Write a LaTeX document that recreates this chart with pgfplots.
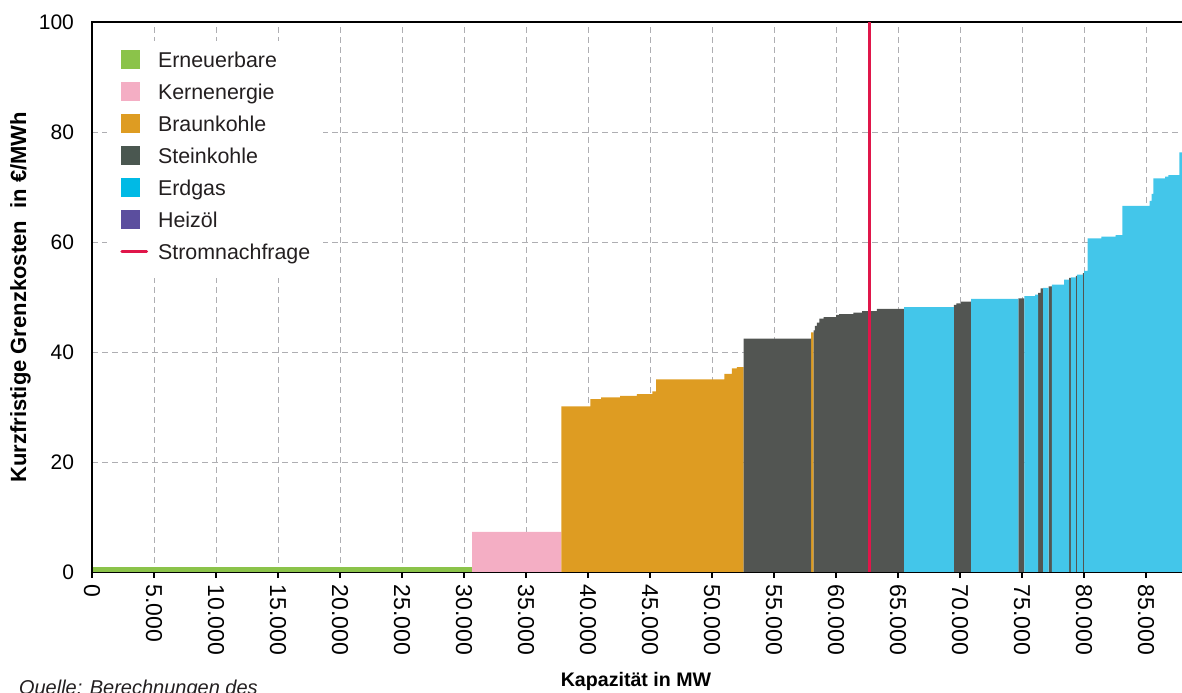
\documentclass[border=0pt]{standalone}
\usepackage{pgfplots}
\pgfplotsset{compat=1.18}
\usepackage{fontspec}
\setmainfont{Liberation Sans}

\definecolor{cErn}{HTML}{8BC34A}
\definecolor{cKern}{HTML}{F4AEC4}
\definecolor{cBraun}{HTML}{DE9C22}
\definecolor{cStein}{HTML}{525552}
\definecolor{cSteinL}{HTML}{4A5750}
\definecolor{cGas}{HTML}{43C6EA}
\definecolor{cGasL}{HTML}{00BAE5}
\definecolor{cOel}{HTML}{5B4E9E}
\definecolor{cStrom}{HTML}{E0164A}
\definecolor{cGrid}{HTML}{AEAEB2}
\definecolor{cText}{HTML}{231F20}

\pgfplotsset{
  block/.style={const plot, fill=#1, draw=none, forget plot},
  sq/.style={legend image code/.code={
      \fill[#1, draw=none] (0pt,-1.0pt) rectangle (9.5pt,8.5pt);
      \path[draw=none, fill=none] (0pt,0pt) -- (13.5pt,0pt);}},
}

\begin{document}
\begin{tikzpicture}
\begin{axis}[
    at={(46pt,-286.25pt)}, anchor=south west,
    scale only axis,
    width=545.6pt, height=275.25pt,
    xmin=0, xmax=88000,
    ymin=0, ymax=100,
    xtick={0,5000,...,85000},
    ytick={0,20,...,100},
    scaled x ticks=false,
    xtick pos=lower,
    tick align=outside,
    major tick length=2.5pt,
    ytick style={draw=none},
    xtick style={black, line width=0.6pt},
    /pgf/number format/assume math mode=true,
    /pgf/number format/fixed,
    /pgf/number format/1000 sep={.},
    xticklabel style={rotate=-90, anchor=west, font=\fontsize{11.5pt}{13pt}\selectfont, text=black},
    yticklabel style={font=\fontsize{10.5pt}{12pt}\selectfont, text=black, xshift=-3pt},
    grid=major,
    grid style={cGrid, line width=0.5pt, dash pattern=on 3pt off 2pt},
    axis line style={black, line width=0.6pt},
    xlabel={Kapazität in MW},
    ylabel={Kurzfristige Grenzkosten\ \ in €/MWh},
    xlabel style={font=\bfseries\fontsize{9.8pt}{12pt}\selectfont, at={(axis description cs:0.4985,-0.197)}, anchor=center},
    ylabel style={font=\bfseries\fontsize{11pt}{13pt}\selectfont, at={(axis description cs:-0.0655,0.5)}, anchor=center},
    legend style={at={(0.0138,0.967)}, anchor=north west, draw=none, fill=white,
        inner xsep=6.5pt, inner ysep=4.5pt, row sep=2.5pt, column sep=5pt,
        font=\fontsize{10.7pt}{12pt}\selectfont, text=cText,
        nodes={inner sep=0pt, text height=5.6pt, text depth=4.4pt}},
    legend cell align=left,
]
% Legende
\addlegendimage{sq=cErn}
\addlegendimage{sq=cKern}
\addlegendimage{sq=cBraun}
\addlegendimage{sq=cSteinL}
\addlegendimage{sq=cGasL}
\addlegendimage{sq=cOel}
\addlegendimage{legend image code/.code={
    \path[draw=none, fill=none] (0pt,-1.0pt) rectangle (13.5pt,8.5pt);
    \draw[cStrom, line width=1.5pt, line cap=round] (0.6pt,3.6pt) -- (12.9pt,3.6pt);}}
\legend{Erneuerbare,Kernenergie,Braunkohle,Steinkohle,Erdgas,Heizöl,Stromnachfrage}

% Erneuerbare
\addplot[block=cErn] coordinates {(0,1.0) (30650,1.0)} \closedcycle;
% Kernenergie
\addplot[block=cKern] coordinates {(30650,7.4) (37850,7.4)} \closedcycle;
% Braunkohle
\addplot[block=cBraun] coordinates {
  (37850,30.2) (40200,31.5) (41050,31.8) (42600,32.1) (43950,32.4)
  (45200,32.9) (45500,35.1) (51000,36.1) (51600,37.1) (52000,37.3)
  (52550,0) (58000,43.6) (58200,0)} \closedcycle;
% Steinkohle
\addplot[block=cStein] coordinates {
  (52550,42.5) (58000,0) (58200,44.0) (58300,44.8) (58450,45.4)
  (58650,46.1) (59000,46.4) (60000,46.8) (60250,46.95) (61400,47.2)
  (62100,47.5) (63300,47.9) (65500,0) (69500,48.6) (69700,48.9)
  (70100,49.2) (70900,0) (74700,49.8) (75200,0) (76300,50.8)
  (76500,51.6) (76700,0) (77150,52.0) (77400,0) (78800,53.5)
  (78950,0) (79350,53.9) (79450,0) (79900,54.4) (80000,0)} \closedcycle;
% Erdgas
\addplot[block=cGas] coordinates {
  (65500,48.2) (69500,0) (70900,49.7) (74700,0) (75200,50.2)
  (76050,50.5) (76300,0) (76700,51.7) (77150,0) (77400,52.3)
  (78400,53.2) (78800,0) (78950,53.6) (79350,0) (79450,54.1)
  (79900,0) (80000,54.8) (80300,60.7) (81400,61.0) (82550,61.3)
  (83100,66.6) (85300,67.5) (85450,68.8) (85600,71.6) (86550,71.9)
  (86800,72.2) (87700,76.3) (88000,76.3)} \closedcycle;
% Stromnachfrage
\addplot[cStrom, line width=1.25pt, forget plot] coordinates {(62700,0) (62700,100)};

\draw[black, line width=0.6pt] (rel axis cs:0,0) -- (rel axis cs:1,0);
\draw[black, line width=0.6pt] (rel axis cs:0,0) -- (rel axis cs:0,1);
\end{axis}
\node[anchor=base west, text=cText, font=\itshape\fontsize{10pt}{12pt}\selectfont] at (6pt,-347pt) {Quelle: Berechnungen des};
\pgfresetboundingbox
\useasboundingbox (0,0) rectangle (591pt,-346pt);
\end{tikzpicture}
\end{document}
